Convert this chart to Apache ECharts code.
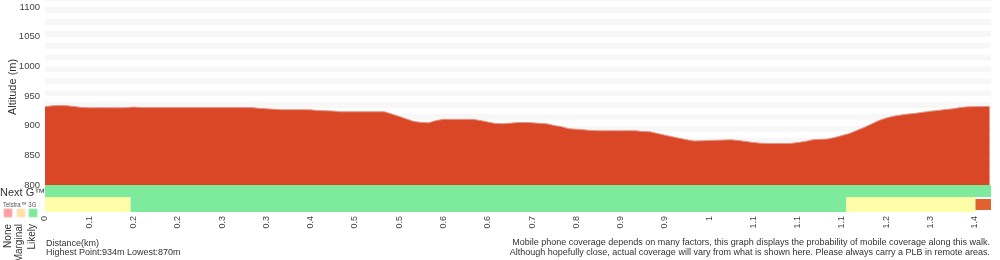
<!DOCTYPE html>
<html>
<head>
<meta charset="utf-8">
<script src="https://cdn.jsdelivr.net/npm/echarts@6/dist/echarts.min.js"></script>
<style>
    html, body { margin: 0; padding: 0; background: #fff; }
    #main { width: 1000px; height: 260px; }
</style>
</head>
<body>
<div id="main"></div>
<script>
// x tick labels (distance, km) - one every 6 samples
const tickLabels = ['0', '0.1', '0.2', '0.2', '0.3', '0.3', '0.4', '0.5', '0.5', '0.6', '0.6',
    '0.7', '0.8', '0.9', '0.9', '1', '1.1', '1.1', '1.1', '1.2', '1.3', '1.4']

// altitude (m) per sample
const altitude = [
    932, 933.5, 934, 933.7, 932.3, 930.8, 930.3, 930.3, 930.3, 930.3,
    930.3, 930.3, 931.5, 930.5, 930.5, 930.5, 930.5, 930.5, 930.5, 930.5,
    930.5, 930.5, 930.5, 930.5, 930.5, 930.5, 930.5, 930.5, 930.5, 929.3,
    928.5, 927.8, 927, 927, 927, 927, 926.7, 925.5, 925.2, 924.7,
    923.5, 923.5, 923.5, 923.5, 923.5, 923.5, 923.5, 919.6, 915.6, 911.2,
    907.1, 905.6, 904.9, 908.6, 910.7, 910.7, 910.7, 910.7, 910.7, 908.7,
    906.2, 903.9, 903.3, 904.2, 905.2, 905.5, 905, 904, 903.2, 900.3,
    898.3, 894.9, 894, 893, 891.9, 891.5, 891.5, 891.5, 891.5, 891.5,
    891.5, 890.2, 889.7, 886.8, 884.1, 881.4, 878.7, 876.2, 874.2, 874.5,
    875, 875.5, 875.8, 876.2, 875, 873.3, 871.6, 870.4, 870, 870,
    870, 870, 871.6, 873.3, 876.2, 877, 877.4, 880, 883.4, 886.8,
    891.9, 896.9, 902.8, 908.7, 912.9, 916, 918, 919.7, 920.9, 922.7,
    924.4, 925.6, 927.3, 928.4, 930.5, 931.8, 932.1, 932.3, 932.3
]

// coverage segments [from sample, to sample, level]
const nextGCoverage = [[0, 128.2, 'likely']]
const telstra3GCoverage = [
    [0, 11.6, 'marginal'],
    [11.6, 108.6, 'likely'],
    [108.6, 126.1, 'marginal'],
    [126.1, 128.2, 'none']
]

const xMax = 128.2
const bandColors = { none: '#e0632f', marginal: '#fefea8', likely: '#7deb9b' }
const font = '"Liberation Sans", Arial, sans-serif'

let mychart = echarts.init(document.getElementById('main'))

const coverageSeries = (segments, grid) => ({
    type: 'custom',
    xAxisIndex: grid,
    yAxisIndex: grid + 1,
    data: segments.map(s => [s[0], s[1]]),
    renderItem: (params, api) => {
        const p0 = api.coord([api.value(0), 1])
        const p1 = api.coord([api.value(1), 0])
        const inset = segments[params.dataIndex][2] === 'none' ? 2 : 0
        return {
            type: 'rect',
            shape: { x: p0[0], y: p0[1] + inset, width: p1[0] - p0[0], height: p1[1] - p0[1] - inset * 2 },
            style: { fill: bandColors[segments[params.dataIndex][2]] }
        }
    }
})

const hiddenX = (i) => ({ type: 'value', gridIndex: i, min: 0, max: xMax, show: false })
const hiddenY = (i) => ({ type: 'value', gridIndex: i, min: 0, max: 1, show: false })

var option = {
    animation: false,
    grid: [
        { left: 45, right: 9, top: 0, height: 185 },
        { left: 45, right: 9, top: 185, height: 12 },
        { left: 45, right: 9, top: 197, height: 15 }
    ],
    xAxis: [
        hiddenX(0),
        hiddenX(1),
        {
            type: 'value', gridIndex: 2, min: 0, max: xMax, interval: 6,
            axisLine: { show: false }, axisTick: { show: false }, splitLine: { show: false },
            axisLabel: {
                rotate: 90, margin: 4, fontSize: 9, color: '#444', fontFamily: font,
                formatter: v => (v % 6 === 0 && tickLabels[v / 6] !== undefined) ? tickLabels[v / 6] : ''
            }
        }
    ],
    yAxis: [
        {
            type: 'value', gridIndex: 0, min: 800, max: 1112, interval: 50,
            axisLine: { show: false }, axisTick: { show: false }, splitLine: { show: false },
            axisLabel: {
                margin: 5, fontSize: 9.5, color: '#444', fontFamily: font,
                formatter: v => v % 50 === 0 ? v : ''
            }
        },
        // light stripes every 10 m
        {
            type: 'value', gridIndex: 0, min: 800, max: 1112, interval: 10,
            axisLine: { show: false }, axisTick: { show: false }, splitLine: { show: false },
            axisLabel: { show: false },
            splitArea: { show: true, areaStyle: { color: ['#ffffff', '#f7f7f7'] } }
        },
        hiddenY(1),
        hiddenY(2)
    ],
    series: [
        {
            type: 'line',
            xAxisIndex: 0,
            yAxisIndex: 0,
            data: altitude.map((v, i) => [i, v]),
            showSymbol: false,
            lineStyle: { color: '#e49483', width: 1 },
            areaStyle: { color: '#d94727', opacity: 1 }
        },
        coverageSeries(nextGCoverage, 1),
        coverageSeries(telstra3GCoverage, 2)
    ],
    graphic: [
        { type: 'text', x: 13, y: 87, rotation: Math.PI / 2,
          style: { text: 'Altitude (m)', font: '11px ' + font, fill: '#333', align: 'center', verticalAlign: 'middle' } },
        { type: 'text', x: 0, y: 193,
          style: { text: 'Next G™', font: '11px ' + font, fill: '#333', verticalAlign: 'middle' } },
        { type: 'text', x: 3, y: 205, scaleX: 0.8, z: 100,
          style: { text: 'Telstra™ 3G', font: '7.5px ' + font, fill: '#555', verticalAlign: 'middle' } },
        { type: 'rect', shape: { x: 4, y: 209, width: 8, height: 8 }, style: { fill: '#ff9e9e', stroke: '#ffb8b8', lineWidth: 1 } },
        { type: 'rect', shape: { x: 17, y: 209, width: 8, height: 8 }, style: { fill: '#ffdfa8', stroke: '#ffe9c4', lineWidth: 1 } },
        { type: 'rect', shape: { x: 29, y: 209, width: 8, height: 8 }, style: { fill: '#7de89a', stroke: '#a4efb8', lineWidth: 1 } },
        { type: 'text', x: 8.5, y: 224, rotation: Math.PI / 2,
          style: { text: 'None', font: '10px ' + font, fill: '#333', align: 'right', verticalAlign: 'middle' } },
        { type: 'text', x: 19.5, y: 224, rotation: Math.PI / 2,
          style: { text: 'Marginal', font: '10px ' + font, fill: '#333', align: 'right', verticalAlign: 'middle' } },
        { type: 'text', x: 32.5, y: 224, rotation: Math.PI / 2,
          style: { text: 'Likely', font: '10px ' + font, fill: '#333', align: 'right', verticalAlign: 'middle' } },
        { type: 'text', x: 46, y: 244,
          style: { text: 'Distance(km)', font: '9px ' + font, fill: '#333', verticalAlign: 'middle' } },
        { type: 'text', x: 46, y: 253,
          style: { text: 'Highest Point:934m Lowest:870m', font: '9px ' + font, fill: '#333', verticalAlign: 'middle' } },
        { type: 'text', x: 990, y: 243,
          style: { text: 'Mobile phone coverage depends on many factors, this graph displays the probability of mobile coverage along this walk.', font: '9px ' + font, fill: '#333', align: 'right', verticalAlign: 'middle' } },
        { type: 'text', x: 990, y: 252.5,
          style: { text: 'Although hopefully close, actual coverage will vary from what is shown here. Please always carry a PLB in remote areas.', font: '9px ' + font, fill: '#333', align: 'right', verticalAlign: 'middle' } }
    ]
}

mychart.setOption(option)

window.addEventListener('resize', () => {
    mychart.resize()
})
</script>
</body>
</html>
